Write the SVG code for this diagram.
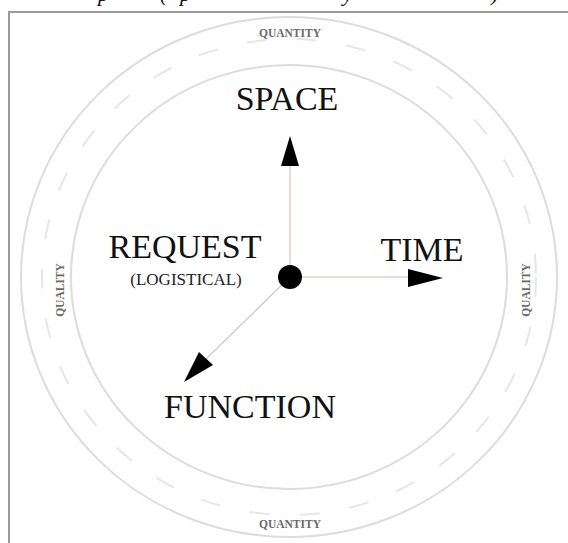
<svg xmlns="http://www.w3.org/2000/svg" width="568" height="543" viewBox="0 0 568 543">
<style>
.ring{fill:none;stroke:#dcdcdc;stroke-width:2}
.dash{fill:none;stroke:#e6e6e6;stroke-width:2;stroke-dasharray:20 30}
.small{font-family:"Liberation Serif",serif;font-size:11.5px;font-weight:bold;fill:#6a6a6a;text-anchor:middle}
.big{font-family:"Liberation Serif",serif;font-size:34px;fill:#111;text-anchor:middle}
.sub{font-family:"Liberation Serif",serif;font-size:17px;fill:#222;text-anchor:middle}
.cap{font-family:"Liberation Serif",serif;font-style:italic;font-size:22px;fill:#111}
.axis{stroke:#e3cccc;stroke-width:1.5}
.head{fill:#000}
</style>
<text class="cap" y="1"><tspan x="98">p</tspan><tspan x="160">(</tspan><tspan x="180">p</tspan><tspan x="343">y</tspan><tspan x="491">)</tspan></text>
<g id="frame">
<rect x="9" y="12" width="570" height="540" fill="#fff" stroke="#9a9a9a" stroke-width="2"/>
</g>
<g id="rings">
<ellipse class="ring" cx="289" cy="277" rx="268" ry="260"/>
<ellipse class="dash" cx="289" cy="277" rx="247" ry="238"/>
<ellipse class="ring" cx="289" cy="277" rx="218" ry="212"/>
</g>
<g id="labels-ring">
<text class="small" x="290" y="37">QUANTITY</text>
<text class="small" x="290" y="528">QUANTITY</text>
<text class="small" transform="translate(64,290) rotate(-90)">QUALITY</text>
<text class="small" transform="translate(530,290) rotate(-90)">QUALITY</text>
</g>
<g id="connectors">
<line class="axis" x1="290" y1="277" x2="290" y2="160"/>
<line class="axis" x1="290" y1="277" x2="412" y2="277"/>
<line x1="290" y1="277" x2="205" y2="360" stroke="#cfcfcf" stroke-width="1.5"/>
<polygon class="head" points="290,136 281,166 299,166"/>
<polygon class="head" points="443,278 408,269 408,287"/>
<polygon class="head" points="184,382 199,352 213,365"/>
</g>
<g id="center"><circle cx="290" cy="277" r="12" fill="#000"/></g>
<g id="space"><text class="big" x="287" y="110">SPACE</text></g>
<g id="time"><text class="big" x="422" y="261">TIME</text></g>
<g id="request"><text class="big" x="185" y="258">REQUEST</text><text class="sub" x="186" y="285">(LOGISTICAL)</text></g>
<g id="function"><text class="big" x="250" y="418">FUNCTION</text></g>
</svg>
